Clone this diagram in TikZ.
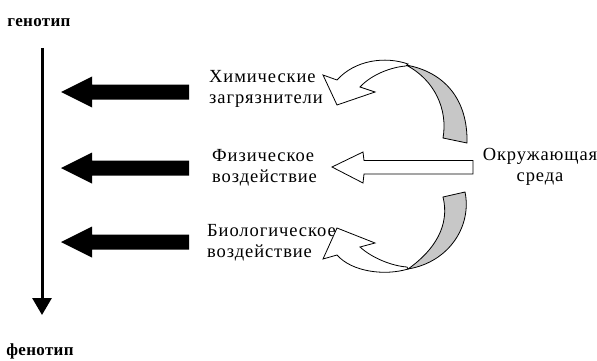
\documentclass[tikz,border=0pt]{standalone}
\usepackage{fontspec}
\setmainfont{Liberation Serif}
\newfontfamily\lblfont[LetterSpace=5]{Liberation Serif}
\newfontfamily\ttlfont[LetterSpace=2]{Liberation Serif}
\usetikzlibrary{arrows.meta}
\tikzset{
  lbl/.style={font=\lblfont\fontsize{18.5}{21}\selectfont, inner sep=0pt},
  ttl/.style={font=\ttlfont\bfseries\fontsize{17}{20}\selectfont, inner sep=0pt},
  blockarrow/.style={fill=black},
  hollow/.style={draw=black, fill=white, line width=0.8pt, line join=miter},
  band/.style={draw=black, fill=black!22, line width=0.8pt}
}
\begin{document}
\begin{tikzpicture}[x=1pt,y=-1pt]
\useasboundingbox (0,0) rectangle (597,361);
% titles
\node[ttl] (geno) at (39,23) {генотип};
\node[ttl] (feno) at (40,351) {фенотип};
% main vertical arrow
\coordinate (gtop) at (42,48);
\coordinate (gbot) at (42,315);
\draw[line width=3pt, -{Triangle[width=19pt,length=17pt]}] (gtop) -- (gbot);
% black block arrows
\foreach \c in {92,168,242}{
  \fill[blockarrow] (61,\c) -- (92,\c-15.5) -- (92,\c-7.5) -- (189,\c-7.5)
    -- (189,\c+7.5) -- (92,\c+7.5) -- (92,\c+15.5) -- cycle;
}
% labels
\node[lbl, anchor=west, align=left] (chem) at (209,89) {Химические\\загрязнители};
\node[lbl, anchor=west, align=left] (phys) at (212,168) {Физическое\\воздействие};
\node[lbl, anchor=west, align=left] (bio) at (207,243) {Биологическое\\воздействие};
\node[lbl, align=center] (env) at (540,167) {Окружающая\\среда};
% middle hollow arrow
\draw[hollow] (332,167) -- (363,152) -- (364,160.5) -- (473,160.5) -- (473,174)
  -- (364,174) -- (363,183) -- cycle;
% top curved arrow
\draw[band] (406,65) .. controls (445,72) and (468,100) .. (467,143) -- (443,138)
  .. controls (448,110) and (435,80) .. (406,65) -- cycle;
\draw[hollow] (408,64) .. controls (385,56) and (355,60) .. (337,80) -- (323,75)
  -- (337,105) -- (375,92) -- (360,87) .. controls (372,74) and (392,67) .. (406,66) -- cycle;
% bottom curved arrow
\draw[band] (443,197) -- (465,192) .. controls (472,225) and (450,262) .. (408,269)
  .. controls (435,250) and (450,225) .. (443,197) -- cycle;
\draw[hollow] (408,269) .. controls (385,276) and (352,272) .. (337,255) -- (323,259)
  -- (337,228) -- (375,243) -- (360,247) .. controls (372,258) and (392,266) .. (407,267) -- cycle;
\end{tikzpicture}
\end{document}
